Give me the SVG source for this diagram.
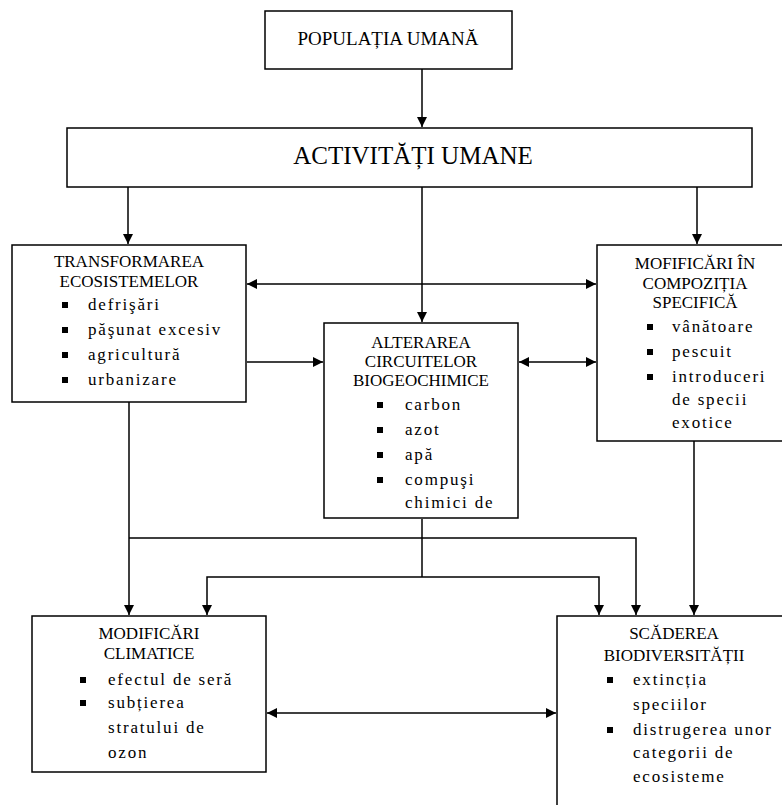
<svg xmlns="http://www.w3.org/2000/svg" width="782" height="805" viewBox="0 0 782 805">
<style>
.box{fill:#fff;stroke:#000;stroke-width:1.5}
.t{font-family:"Liberation Serif","Times New Roman",serif;fill:#000}
.big{text-anchor:middle}
.hd{font-size:17px;text-anchor:middle}
.b{font-size:17px;letter-spacing:1.8px}
.ln{fill:none;stroke:#000;stroke-width:1.5}
.bl{fill:#000}
</style>
<defs>
<marker id="ah" viewBox="0 0 10 10" refX="10" refY="5" markerWidth="10" markerHeight="10" markerUnits="userSpaceOnUse" orient="auto-start-reverse">
<path d="M0,0 L10,5 L0,10 Z" fill="#000"/>
</marker>
</defs>
<rect width="782" height="805" fill="#fff"/>
<g id="connectors">
<path class="ln" d="M422,69 V127" marker-end="url(#ah)"/>
<path class="ln" d="M128,187 V244" marker-end="url(#ah)"/>
<path class="ln" d="M422,187 V322" marker-end="url(#ah)"/>
<path class="ln" d="M697,187 V244" marker-end="url(#ah)"/>
<path class="ln" d="M247,284 H596" marker-start="url(#ah)" marker-end="url(#ah)"/>
<path class="ln" d="M247,362 H323" marker-end="url(#ah)"/>
<path class="ln" d="M519,362 H596" marker-start="url(#ah)" marker-end="url(#ah)"/>
<path class="ln" d="M129,402 V615" marker-end="url(#ah)"/>
<path class="ln" d="M129,538 H636 V615" marker-end="url(#ah)"/>
<path class="ln" d="M422,519 V577"/>
<path class="ln" d="M422,577 H207 V615" marker-end="url(#ah)"/>
<path class="ln" d="M422,577 H599 V615" marker-end="url(#ah)"/>
<path class="ln" d="M694,441 V615" marker-end="url(#ah)"/>
<path class="ln" d="M267,713 H556" marker-start="url(#ah)" marker-end="url(#ah)"/>
</g>
<g id="populatia">
<rect class="box" x="265" y="11" width="247" height="58"/>
<text class="t big" x="388" y="45" font-size="19">POPULAȚIA UMANĂ</text>
</g>
<g id="activitati">
<rect class="box" x="67" y="128" width="685" height="59"/>
<text class="t big" x="413" y="164" font-size="25">ACTIVITĂȚI UMANE</text>
</g>
<g id="transformarea">
<rect class="box" x="12" y="245" width="234" height="157"/>
<text class="t hd" x="129" y="267">TRANSFORMAREA</text>
<text class="t hd" x="129" y="287">ECOSISTEMELOR</text>
<rect class="bl" x="62" y="302" width="6" height="6"/>
<rect class="bl" x="62" y="327" width="6" height="6"/>
<rect class="bl" x="62" y="352" width="6" height="6"/>
<rect class="bl" x="62" y="377" width="6" height="6"/>
<text class="t b" x="88" y="310">defrişări</text>
<text class="t b" x="88" y="335">păşunat excesiv</text>
<text class="t b" x="88" y="360">agricultură</text>
<text class="t b" x="88" y="385">urbanizare</text>
</g>
<g id="alterarea">
<rect class="box" x="324" y="323" width="194" height="195"/>
<text class="t hd" x="421" y="348">ALTERAREA</text>
<text class="t hd" x="421" y="367">CIRCUITELOR</text>
<text class="t hd" x="421" y="386">BIOGEOCHIMICE</text>
<rect class="bl" x="377" y="402" width="6" height="6"/>
<rect class="bl" x="377" y="427" width="6" height="6"/>
<rect class="bl" x="377" y="452" width="6" height="6"/>
<rect class="bl" x="377" y="477" width="6" height="6"/>
<text class="t b" x="405" y="410">carbon</text>
<text class="t b" x="405" y="435">azot</text>
<text class="t b" x="405" y="460">apă</text>
<text class="t b" x="405" y="485">compuşi</text>
<text class="t b" x="405" y="508">chimici de</text>
</g>
<g id="compozitia">
<rect class="box" x="597" y="245" width="198" height="196"/>
<text class="t hd" x="695" y="269">MOFIFICĂRI ÎN</text>
<text class="t hd" x="695" y="289">COMPOZIȚIA</text>
<text class="t hd" x="695" y="308">SPECIFICĂ</text>
<rect class="bl" x="647" y="324" width="6" height="6"/>
<rect class="bl" x="647" y="349" width="6" height="6"/>
<rect class="bl" x="647" y="374" width="6" height="6"/>
<text class="t b" x="672" y="332">vânătoare</text>
<text class="t b" x="672" y="357">pescuit</text>
<text class="t b" x="672" y="382">introduceri</text>
<text class="t b" x="672" y="405">de specii</text>
<text class="t b" x="672" y="428">exotice</text>
</g>
<g id="climatice">
<rect class="box" x="32" y="616" width="234" height="156"/>
<text class="t hd" x="149" y="639">MODIFICĂRI</text>
<text class="t hd" x="149" y="659">CLIMATICE</text>
<rect class="bl" x="80" y="677" width="6" height="6"/>
<rect class="bl" x="80" y="700" width="6" height="6"/>
<text class="t b" x="108" y="685">efectul de seră</text>
<text class="t b" x="108" y="708">subțierea</text>
<text class="t b" x="108" y="733">stratului de</text>
<text class="t b" x="108" y="758">ozon</text>
</g>
<g id="biodiversitate">
<rect class="box" x="557" y="616" width="240" height="200"/>
<text class="t hd" x="674" y="639">SCĂDEREA</text>
<text class="t hd" x="674" y="661">BIODIVERSITĂȚII</text>
<rect class="bl" x="607" y="677" width="6" height="6"/>
<rect class="bl" x="607" y="727" width="6" height="6"/>
<text class="t b" x="633" y="685">extincția</text>
<text class="t b" x="633" y="710">speciilor</text>
<text class="t b" x="633" y="735">distrugerea unor</text>
<text class="t b" x="633" y="758">categorii de</text>
<text class="t b" x="633" y="782">ecosisteme</text>
</g>
</svg>
